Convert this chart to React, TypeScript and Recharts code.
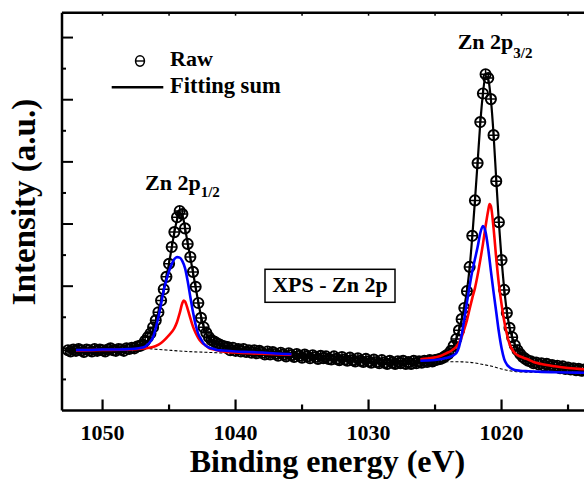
import React from 'react';
import { ComposedChart, Line, Scatter, XAxis, YAxis } from 'recharts';

// Raw XPS spectrum: [binding energy (eV), intensity (a.u.)]
const rawSpectrum: [number, number][] = [
  [1052.6,97],[1052.4,95],[1052.2,98],[1052.0,96],[1051.8,99],[1051.6,97],[1051.4,94],[1051.2,98],[1051.0,97],[1050.8,95],
  [1050.6,99],[1050.4,96],[1050.2,98],[1050.0,97],[1049.8,95],[1049.6,98],[1049.4,100],[1049.2,97],[1049.0,96],[1048.8,99],
  [1048.6,98],[1048.4,96],[1048.2,100],[1048.0,99],[1047.8,101],[1047.6,100],[1047.4,103],[1047.2,104],[1047.0,106],[1046.8,112],
  [1046.6,118],[1046.4,124],[1046.2,134],[1046.0,145],[1045.8,158],[1045.6,177],[1045.4,195],[1045.2,215],[1045.0,236],[1044.8,263],
  [1044.6,287],[1044.4,311],[1044.2,321],[1044.0,316],[1043.8,293],[1043.6,268],[1043.4,247],[1043.2,223],[1043.0,199],[1042.8,173],
  [1042.6,149],[1042.4,134],[1042.2,125],[1042.0,118],[1041.8,113],[1041.6,111],[1041.4,108],[1041.2,106],[1041.0,104],[1040.8,103],
  [1040.6,102],[1040.4,97],[1040.2,101],[1040.0,96],[1039.8,99],[1039.6,95],[1039.4,99],[1039.2,94],[1039.0,97],[1038.8,93],
  [1038.6,97],[1038.4,92],[1038.2,96],[1038.0,93],[1037.8,90],[1037.6,95],[1037.4,90],[1037.2,94],[1037.0,91],[1036.8,88],
  [1036.6,93],[1036.4,90],[1036.2,87],[1036.0,92],[1035.8,89],[1035.6,86],[1035.4,91],[1035.2,88],[1035.0,85],[1034.8,90],
  [1034.6,87],[1034.4,84],[1034.2,89],[1034.0,86],[1033.8,83],[1033.6,88],[1033.4,84],[1033.2,87],[1033.0,83],[1032.8,82],
  [1032.6,87],[1032.4,83],[1032.2,81],[1032.0,86],[1031.8,82],[1031.6,80],[1031.4,85],[1031.2,81],[1031.0,79],[1030.8,84],
  [1030.6,80],[1030.4,78],[1030.2,83],[1030.0,79],[1029.8,77],[1029.6,82],[1029.4,78],[1029.2,76],[1029.0,81],[1028.8,77],
  [1028.6,75],[1028.4,80],[1028.2,77],[1028.0,75],[1027.8,79],[1027.6,76],[1027.4,80],[1027.2,75],[1027.0,78],[1026.8,75],
  [1026.6,80],[1026.4,76],[1026.2,79],[1026.0,77],[1025.8,80],[1025.6,78],[1025.4,81],[1025.2,79],[1025.0,81],[1024.8,82],
  [1024.6,83],[1024.4,85],[1024.2,88],[1024.0,91],[1023.8,96],[1023.6,104],[1023.4,115],[1023.2,129],[1023.0,147],[1022.8,165],
  [1022.6,192],[1022.4,231],[1022.2,281],[1022.0,338],[1021.8,398],[1021.6,464],[1021.4,510],[1021.2,541],[1021.0,535],[1020.8,501],
  [1020.6,443],[1020.4,369],[1020.2,303],[1020.0,242],[1019.8,194],[1019.6,157],[1019.4,133],[1019.2,118],[1019.0,105],[1018.8,97],
  [1018.6,91],[1018.4,86],[1018.2,83],[1018.0,80],[1017.8,79],[1017.6,76],[1017.4,77],[1017.2,74],[1017.0,76],[1016.8,72],
  [1016.6,75],[1016.4,71],[1016.2,73],[1016.0,70],[1015.8,72],[1015.6,68],[1015.4,71],[1015.2,67],[1015.0,69],[1014.8,66],
  [1014.6,68],[1014.4,65],[1014.2,67],[1014.0,64],[1013.8,66],
];

// Zn 2p1/2 region fit
const sum12: [number, number][] = [
  [1052.0,97],[1048.0,99],[1047.4,101.5],[1047.0,104.5],[1046.8,108],[1046.6,113],[1046.4,120],[1046.2,130],[1046.0,143],
  [1045.8,158],[1045.6,176],[1045.4,195],[1045.2,215],[1045.0,237],[1044.8,262],[1044.6,287],[1044.4,307],[1044.2,318],
  [1044.0,314],[1043.8,294],[1043.6,269],[1043.4,246],[1043.2,222],[1043.0,198],[1042.8,174],[1042.6,152],[1042.4,135],
  [1042.2,124],[1042.0,116],[1041.8,111],[1041.6,108],[1041.4,106],[1041.0,103],[1040.4,99],[1039.0,96],[1038.0,94],
  [1037.0,92],[1036.0,91],[1035.8,90.5],
];
const blue12: [number, number][] = [
  [1052.0,97.3],[1051.0,97.3],[1050.0,98.1],[1049.0,98.1],[1048.0,98.9],[1047.4,99.7],[1047.0,101.3],[1046.8,102.9],
  [1046.6,106.1],[1046.4,110.9],[1046.2,118.2],[1046.0,132.6],[1045.8,150.3],[1045.6,171.2],[1045.4,193.7],[1045.2,209.8],
  [1045.0,224.3],[1044.8,235.5],[1044.6,243.6],[1044.4,246.8],[1044.2,246.0],[1044.0,240.3],[1043.8,229.1],[1043.6,208.2],
  [1043.4,182.5],[1043.2,158.3],[1043.0,137.5],[1042.8,122.9],[1042.6,114.9],[1042.4,107.7],[1042.2,103.7],[1042.0,101.3],
  [1041.6,98.9],[1041.4,97.3],[1041.0,96.5],[1040.0,94.9],[1039.0,94.1],[1038.0,93.2],[1037.0,91.6],[1036.0,90.8],[1035.8,90.4],
];
const red12: [number, number][] = [
  [1052.0,96.8],[1050.0,97.3],[1048.0,98.1],[1047.0,99.7],[1046.4,101.3],[1046.0,103.7],[1045.6,108.5],[1045.2,116.6],
  [1044.8,126.2],[1044.6,132.6],[1044.4,142.3],[1044.2,156.7],[1044.0,172.8],[1043.9,176.8],[1043.8,175.2],[1043.6,163.2],
  [1043.4,148.7],[1043.2,135.0],[1043.0,124.6],[1042.8,116.6],[1042.6,110.9],[1042.4,106.9],[1042.2,103.7],[1042.0,100.5],
  [1041.6,98.1],[1041.0,94.9],[1040.0,93.2],[1039.0,92.0],[1038.0,91.2],[1037.0,90.5],[1036.0,89.9],[1035.8,89.7],
];
const bg12: [number, number][] = [
  [1047.6,100.5],[1046.6,99.7],[1046.0,98.5],[1045.2,97.3],[1044.2,95.7],[1043.2,94.5],[1042.2,93.6],[1041.4,92.9],
  [1040.0,92.0],[1038.0,91.2],[1036.0,90.5],[1035.8,90.4],
];

// Zn 2p3/2 region fit
const sum32: [number, number][] = [
  [1026.1,78.5],[1025.0,80],[1024.6,82.5],[1024.2,87],[1024.0,91],[1023.8,96],[1023.6,104],[1023.4,115],[1023.2,129],
  [1023.0,146],[1022.8,167],[1022.6,193],[1022.4,230],[1022.2,280],[1022.0,338],[1021.8,399],[1021.6,462],[1021.4,510],
  [1021.2,538],[1021.0,533],[1020.8,500],[1020.6,444],[1020.4,372],[1020.2,302],[1020.0,244],[1019.8,196],[1019.6,159],
  [1019.4,134],[1019.2,118],[1019.0,106],[1018.8,98],[1018.6,92],[1018.4,87],[1018.2,84],[1018.0,81.5],[1017.6,78],
  [1017.0,75],[1016.0,72],[1015.0,69],[1013.8,66],
];
const blue32: [number, number][] = [
  [1026.1,80.1],[1025.6,80.4],[1025.0,81.2],[1024.6,82.3],[1024.2,84.4],[1023.8,86.8],[1023.6,89.2],[1023.4,92.4],
  [1023.2,102.1],[1023.0,121.4],[1022.8,147.1],[1022.6,174.4],[1022.4,200.2],[1022.2,224.3],[1022.0,243.6],[1021.8,262.9],
  [1021.6,285.4],[1021.4,296.6],[1021.2,287.0],[1021.0,259.6],[1020.8,224.3],[1020.6,190.5],[1020.4,158.4],[1020.2,126.2],
  [1020.0,100.5],[1019.8,82.8],[1019.6,74.0],[1019.4,69.5],[1019.2,66.8],[1019.0,65.2],[1018.6,64.0],[1018.0,63.2],
  [1017.0,62.2],[1016.0,61.6],[1015.0,61.1],[1013.8,60.8],
];
const red32: [number, number][] = [
  [1026.1,82.3],[1025.6,83.6],[1025.0,85.5],[1024.6,87.6],[1024.2,91.6],[1023.8,95.7],[1023.6,98.9],[1023.4,102.9],
  [1023.2,109.3],[1023.0,118.2],[1022.8,131.0],[1022.6,145.5],[1022.4,163.2],[1022.2,180.9],[1022.0,196.9],[1021.8,217.8],
  [1021.6,241.9],[1021.4,267.7],[1021.2,296.6],[1021.0,322.3],[1020.9,332.0],[1020.8,328.8],[1020.6,293.4],[1020.4,245.2],
  [1020.2,203.4],[1020.0,171.2],[1019.8,143.9],[1019.6,123.0],[1019.4,107.0],[1019.2,98.1],[1019.0,92.4],[1018.8,89.2],
  [1018.4,85.2],[1018.0,82.0],[1017.6,78.0],[1017.0,74.8],[1016.0,71.1],[1015.0,68.3],[1013.8,66.4],
];
const bg32: [number, number][] = [
  [1026.1,78.8],[1024.0,78.5],[1023.0,78.3],[1022.4,77.5],[1022.0,76.4],[1021.4,74.1],[1020.8,71.5],[1020.2,68.0],
  [1019.6,64.8],[1019.0,62.7],[1018.4,61.9],[1017.0,61.4],[1013.8,60.8],
];

const xDomain: [number, number] = [1013.8, 1053.05];
const yDomain: [number, number] = [0, 640];
const xMajorTicks = [1050, 1040, 1030, 1020];
const xMajorLabels = ['1050', '1040', '1030', '1020'];
const xMinorTicks = [1045, 1035, 1025, 1015];
const yMajorTicks = [100, 200, 300, 400, 500, 600];
const yMinorTicks = [50, 150, 250, 350, 450, 550];

const FONT = "'Liberation Serif', 'Times New Roman', serif";

const toPts = (arr: [number, number][]) => arr.map(([x, y]) => ({ x, y }));

const RawMarker = (props: any) => {
  const { cx, cy } = props;
  if (cx == null || cy == null) return <g />;
  const r = 5.1;
  return (
    <g>
      <circle cx={cx} cy={cy} r={r} fill="none" stroke="#000" strokeWidth={1.9} />
      <line x1={cx - r} x2={cx + r} y1={cy} y2={cy} stroke="#000" strokeWidth={1.5} />
      <line x1={cx} x2={cx} y1={cy - r} y2={cy + r} stroke="#000" strokeWidth={1.5} />
    </g>
  );
};

const XTickBottom = (props: any) => {
  const { x, y, payload } = props;
  const idx = xMajorTicks.indexOf(payload.value);
  const major = idx >= 0;
  return (
    <g>
      <line x1={x} x2={x} y1={y} y2={y - (major ? 11 : 6)} stroke="#000" strokeWidth={2.2} />
      {major && (
        <text x={x} y={y + 29} textAnchor="middle" fontFamily={FONT} fontWeight="bold" fontSize={22} fill="#000">
          {xMajorLabels[idx]}
        </text>
      )}
    </g>
  );
};

const XTickTop = (props: any) => {
  const { x, y } = props;
  return <line x1={x} x2={x} y1={y} y2={y + 3} stroke="#000" strokeWidth={1.5} />;
};

const YTick = (props: any) => {
  const { x, y, payload } = props;
  const major = yMajorTicks.includes(payload.value);
  return <line x1={x} x2={x + (major ? 11 : 4)} y1={y} y2={y} stroke="#000" strokeWidth={2} />;
};

const allXTicks = [...xMajorTicks, ...xMinorTicks].sort((a, b) => b - a);
const allYTicks = [...yMajorTicks, ...yMinorTicks].sort((a, b) => a - b);

export default function App() {
  return (
    <div style={{ position: 'absolute', left: 0, top: 0, width: 584, height: 480, background: '#fff', overflow: 'hidden' }}>
      <ComposedChart width={584} height={480} margin={{ top: 11.7, right: 0, bottom: 9.5, left: 61 }}>
        <XAxis
          dataKey="x"
          type="number"
          domain={xDomain}
          allowDataOverflow
          reversed
          ticks={allXTicks}
          interval={0}
          tick={(p: any) => <XTickBottom {...p} />}
          tickLine={false}
          tickSize={0}
          tickMargin={0}
          height={60}
          axisLine={{ stroke: '#000', strokeWidth: 2.5 }}
        />
        <XAxis
          xAxisId="top"
          orientation="top"
          dataKey="x"
          type="number"
          domain={xDomain}
          allowDataOverflow
          reversed
          ticks={allXTicks}
          interval={0}
          tick={(p: any) => <XTickTop {...p} />}
          tickLine={false}
          tickSize={0}
          tickMargin={0}
          height={1}
          axisLine={{ stroke: '#000', strokeWidth: 2.4 }}
        />
        <YAxis
          type="number"
          domain={yDomain}
          allowDataOverflow
          ticks={allYTicks}
          interval={0}
          width={1}
          tickSize={0}
          tickMargin={0}
          tickLine={false}
          tick={(p: any) => <YTick {...p} />}
          axisLine={{ stroke: '#000', strokeWidth: 2.5 }}
        />
        <Scatter data={toPts(rawSpectrum)} dataKey="y" shape={RawMarker} isAnimationActive={false} zIndex={350} />
        <Line data={toPts(sum12)} dataKey="y" type="monotone" stroke="#000" strokeWidth={2.2} dot={false} activeDot={false} isAnimationActive={false} />
        <Line data={toPts(sum32)} dataKey="y" type="monotone" stroke="#000" strokeWidth={2.2} dot={false} activeDot={false} isAnimationActive={false} />
        <Line data={toPts(bg12)} dataKey="y" type="monotone" stroke="#000" strokeWidth={1.1} strokeDasharray="3 2" dot={false} activeDot={false} isAnimationActive={false} />
        <Line data={toPts(bg32)} dataKey="y" type="monotone" stroke="#000" strokeWidth={1.1} strokeDasharray="3 2" dot={false} activeDot={false} isAnimationActive={false} />
        <Line data={toPts(red12)} dataKey="y" type="monotone" stroke="#ff0000" strokeWidth={2.6} dot={false} activeDot={false} isAnimationActive={false} />
        <Line data={toPts(red32)} dataKey="y" type="monotone" stroke="#ff0000" strokeWidth={2.6} dot={false} activeDot={false} isAnimationActive={false} />
        <Line data={toPts(blue12)} dataKey="y" type="monotone" stroke="#0000ff" strokeWidth={2.6} dot={false} activeDot={false} isAnimationActive={false} />
        <Line data={toPts(blue32)} dataKey="y" type="monotone" stroke="#0000ff" strokeWidth={2.6} dot={false} activeDot={false} isAnimationActive={false} />
      </ComposedChart>
      <svg width={584} height={480} style={{ position: 'absolute', left: 0, top: 0, pointerEvents: 'none' }}>
        <g fontFamily={FONT} fontWeight="bold" fill="#000">
          <ellipse cx={140} cy={61} rx={4.4} ry={5.2} fill="none" stroke="#000" strokeWidth={1.6} />
          <line x1={135.6} x2={144.4} y1={61} y2={61} stroke="#000" strokeWidth={1.4} />
          <text x={170} y={66} fontSize={22}>Raw</text>
          <line x1={111.7} x2={163.3} y1={87.3} y2={87.3} stroke="#000" strokeWidth={2.6} />
          <text x={170} y={93} fontSize={22.5}>Fitting sum</text>
          <text x={145} y={190} fontSize={22}>
            Zn 2p<tspan fontSize={15} dy={7}>1/2</tspan>
          </text>
          <text x={457.7} y={49.3} fontSize={22}>
            Zn 2p<tspan fontSize={15} dy={9}>3/2</tspan>
          </text>
          <rect x={265} y={269.3} width={130} height={33} fill="#fff" stroke="#000" strokeWidth={1.5} />
          <text x={330} y={292} fontSize={22} textAnchor="middle">XPS - Zn 2p</text>
          <text x={327.5} y={472} fontSize={32} textAnchor="middle">Binding energy (eV)</text>
          <text x={35} y={202} fontSize={33} textAnchor="middle" transform="rotate(-90 35 202)">Intensity (a.u.)</text>
        </g>
      </svg>
    </div>
  );
}
